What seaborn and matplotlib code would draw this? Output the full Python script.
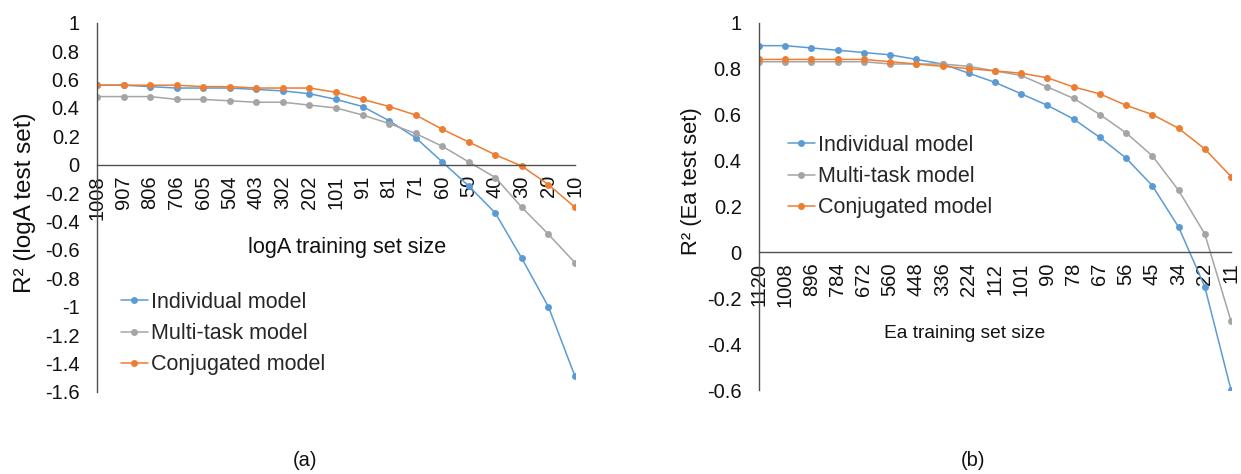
import numpy as np
import pandas as pd
import matplotlib
matplotlib.use("Agg")
import matplotlib.pyplot as plt
import seaborn as sns

# ---------------- data ----------------
models = ["Individual model", "Multi-task model", "Conjugated model"]

logA_sizes = ["1008", "907", "806", "706", "605", "504", "403", "302", "202", "101",
              "91", "81", "71", "60", "50", "40", "30", "20", "10"]
logA_individual = [0.56, 0.56, 0.55, 0.54, 0.54, 0.54, 0.53, 0.52, 0.50, 0.46,
                   0.41, 0.31, 0.19, 0.02, -0.15, -0.34, -0.66, -1.00, -1.49]
logA_multitask = [0.48, 0.48, 0.48, 0.46, 0.46, 0.45, 0.44, 0.44, 0.42, 0.40,
                  0.35, 0.29, 0.22, 0.13, 0.02, -0.09, -0.30, -0.49, -0.69]
logA_conjugated = [0.56, 0.56, 0.56, 0.56, 0.55, 0.55, 0.54, 0.54, 0.54, 0.51,
                   0.46, 0.41, 0.35, 0.25, 0.16, 0.07, -0.01, -0.14, -0.30]

ea_sizes = ["1120", "1008", "896", "784", "672", "560", "448", "336", "224", "112",
            "101", "90", "78", "67", "56", "45", "34", "22", "11"]
ea_individual = [0.90, 0.90, 0.89, 0.88, 0.87, 0.86, 0.84, 0.82, 0.78, 0.74,
                 0.69, 0.64, 0.58, 0.50, 0.41, 0.29, 0.11, -0.15, -0.60]
ea_multitask = [0.83, 0.83, 0.83, 0.83, 0.83, 0.82, 0.82, 0.82, 0.81, 0.79,
                0.77, 0.72, 0.67, 0.60, 0.52, 0.42, 0.27, 0.08, -0.30]
ea_conjugated = [0.84, 0.84, 0.84, 0.84, 0.84, 0.83, 0.82, 0.81, 0.80, 0.79,
                 0.78, 0.76, 0.72, 0.69, 0.64, 0.60, 0.54, 0.45, 0.33]

logA_yticks = [1, 0.8, 0.6, 0.4, 0.2, 0, -0.2, -0.4, -0.6, -0.8, -1, -1.2, -1.4, -1.6]
ea_yticks = [1, 0.8, 0.6, 0.4, 0.2, 0, -0.2, -0.4, -0.6]

colors = ["#5B9BD5", "#A5A5A5", "#ED7D31"]

# ---------------- style ----------------
sns.set_style("white")
plt.rcParams["font.family"] = ["Liberation Sans", "DejaVu Sans"]
plt.rcParams["axes.unicode_minus"] = False

FS = 14.5
W, H = 1241, 474
fig = plt.figure(figsize=(W / 100, H / 100), dpi=100)


def px_axes(l, r, t, b):
    return fig.add_axes([l / W, 1 - b / H, (r - l) / W, (b - t) / H])


def long_frame(sizes, series):
    rows = []
    for name, vals in zip(models, series):
        for i, (s, v) in enumerate(zip(sizes, vals)):
            rows.append({"pos": i, "size": s, "model": name, "r2": v})
    return pd.DataFrame(rows)


def draw_panel(ax, sizes, series, yticks, xlabel, ylabel,
               xlab_pos, ylab_pos, leg_anchor, xlab_fs, ylab_fs):
    df = long_frame(sizes, series)
    sns.lineplot(data=df, x="pos", y="r2", hue="model", hue_order=models,
                 palette=colors, marker="o", markersize=5, markeredgewidth=0,
                 linewidth=1.1, ax=ax, legend=True, sort=False)
    leg = ax.get_legend()
    handles = leg.legend_handles
    labels = [t.get_text() for t in leg.texts]
    leg.remove()
    for hd in handles:
        hd.set_marker("o")
        hd.set_markersize(5)
        hd.set_markeredgewidth(0)
        hd.set_linewidth(1.1)
    ax.legend(handles, labels, loc="upper left", bbox_to_anchor=leg_anchor,
              bbox_transform=fig.transFigure, frameon=False, fontsize=FS + 1,
              handlelength=1.25, handletextpad=0.15, labelspacing=0.47,
              borderpad=0, borderaxespad=0)

    for sp in ["top", "right"]:
        ax.spines[sp].set_visible(False)
    ax.spines["bottom"].set_position(("data", 0))
    for sp in ["left", "bottom"]:
        ax.spines[sp].set_color("#505050")
        ax.spines[sp].set_linewidth(1.0)

    ax.set_xlim(0, len(sizes) - 1)
    ax.set_ylim(min(yticks), max(yticks))
    ax.set_xticks(range(len(sizes)))
    ax.set_xticklabels(sizes, rotation=90, fontsize=FS, color="#111111")
    ax.set_yticks(yticks)
    ax.set_yticklabels([f"{v:g}" for v in yticks], fontsize=FS, color="#111111")

    ax.tick_params(axis="x", direction="out", length=4.5, width=1.0,
                   color="#505050", pad=3)
    ax.tick_params(axis="y", direction="out", length=4.5, width=1.0,
                   color="#505050", pad=8)
    ax.grid(False)

    ax.set_xlabel(xlabel, fontsize=xlab_fs, color="#111111")
    ax.xaxis.label.set_va("center")
    ax.xaxis.set_label_coords(*xlab_pos, transform=fig.transFigure)
    ax.set_ylabel(ylabel, fontsize=ylab_fs, color="#111111")
    ax.yaxis.label.set_va("center")
    ax.yaxis.set_label_coords(*ylab_pos, transform=fig.transFigure)


# left panel (a)
axL = px_axes(97, 575, 22.7, 392)
draw_panel(axL, logA_sizes, [logA_individual, logA_multitask, logA_conjugated],
           logA_yticks, "logA training set size", "R\u00b2 (logA test set)",
           (347 / W, 1 - 247 / H), (25 / W, 1 - 203 / H),
           (121 / W, 1 - 292 / H), 15.6, 17.5)

# right panel (b)
axR = px_axes(759, 1231, 22.7, 390)
draw_panel(axR, ea_sizes, [ea_individual, ea_multitask, ea_conjugated],
           ea_yticks, "Ea training set size", "R\u00b2 (Ea test set)",
           (965 / W, 1 - 333 / H), (691 / W, 1 - 181 / H),
           (788 / W, 1 - 135 / H), 13.8, 15.8)

fig.text(305 / W, 1 - 461 / H, "(a)", ha="center", va="center", fontsize=FS,
         color="#111111")
fig.text(973 / W, 1 - 461 / H, "(b)", ha="center", va="center", fontsize=FS,
         color="#111111")

fig.savefig("out.png", dpi=100, facecolor="white")
